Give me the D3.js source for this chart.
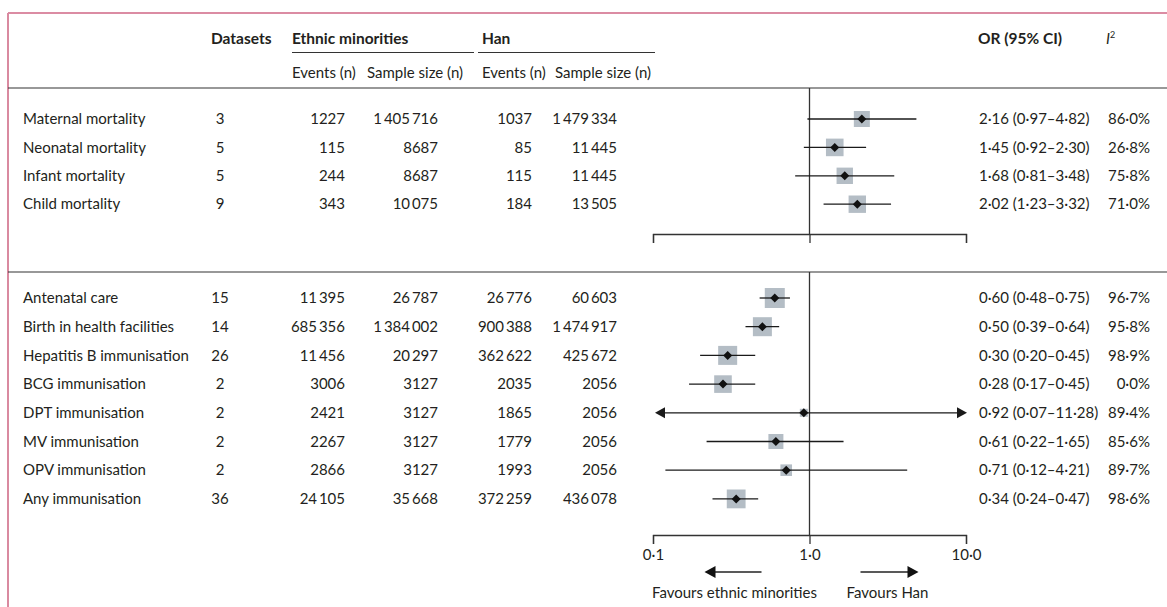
<!DOCTYPE html>
<html>
<head>
<meta charset="utf-8">
<script src="https://cdn.jsdelivr.net/npm/d3@7"></script>
<style>
  body { margin: 0; background: #fff; }
  text { font-family: Lato, "Open Sans", sans-serif; font-size: 15px; fill: #231f20; }
  .bold { font-weight: bold; font-size: 15.5px; }
</style>
</head>
<body>
<svg width="1167" height="607"></svg>
<script>
// table data
const outcomes = ["Maternal mortality", "Neonatal mortality", "Infant mortality", "Child mortality",
  "Antenatal care", "Birth in health facilities", "Hepatitis B immunisation", "BCG immunisation",
  "DPT immunisation", "MV immunisation", "OPV immunisation", "Any immunisation"]
const group = [0, 0, 0, 0, 1, 1, 1, 1, 1, 1, 1, 1]
const datasets = [3, 5, 5, 9, 15, 14, 26, 2, 2, 2, 2, 36]
const em_events = [1227, 115, 244, 343, 11395, 685356, 11456, 3006, 2421, 2267, 2866, 24105]
const em_sample = [1405716, 8687, 8687, 10075, 26787, 1384002, 20297, 3127, 3127, 3127, 3127, 35668]
const han_events = [1037, 85, 115, 184, 26776, 900388, 362622, 2035, 1865, 1779, 1993, 372259]
const han_sample = [1479334, 11445, 11445, 13505, 60603, 1474917, 425672, 2056, 2056, 2056, 2056, 436078]
const or_value = [2.16, 1.45, 1.68, 2.02, 0.60, 0.50, 0.30, 0.28, 0.92, 0.61, 0.71, 0.34]
const or_low = [0.97, 0.92, 0.81, 1.23, 0.48, 0.39, 0.20, 0.17, 0.07, 0.22, 0.12, 0.24]
const or_high = [4.82, 2.30, 3.48, 3.32, 0.75, 0.64, 0.45, 0.45, 11.28, 1.65, 4.21, 0.47]
const i2 = [86.0, 26.8, 75.8, 71.0, 96.7, 95.8, 98.9, 0.0, 89.4, 85.6, 89.7, 98.6]
// relative study weight (drives the grey box size)
const weight = [8.0, 8.8, 8.2, 8.7, 10.0, 9.5, 9.5, 8.8, 4.0, 7.5, 5.8, 9.4]
const axis_ticks = [0.1, 1, 10]

const rows = outcomes.map((name, i) => ({
  name, group: group[i], datasets: datasets[i],
  em_events: em_events[i], em_sample: em_sample[i],
  han_events: han_events[i], han_sample: han_sample[i],
  or: or_value[i], lo: or_low[i], hi: or_high[i], i2: i2[i], weight: weight[i],
  index: i - (group[i] === 0 ? 0 : 4)
}))

const svg = d3.select("svg")

const group_top = [119, 298]
const row_step = [28.4, 28.7]
const row_y = row => group_top[row.group] + row.index * row_step[row.group]
const axis_y = [234, 535]
const rule_y = [88, 272]

const x = d3.scaleLog().domain([0.1, 10]).range([653, 966])
const box = d3.scaleLinear().domain([0, 10]).range([0, 20])

const dot = s => s.replace(".", "·")
const fmt_num = n => n >= 10000 ? d3.format(",")(n).replace(/,/g, "\u2009") : String(n)
const fmt_or = r => dot(r.or.toFixed(2)) + " (" + dot(r.lo.toFixed(2)) + "–" + dot(r.hi.toFixed(2)) + ")"

// frame
svg.append("line").attr("x1", 8).attr("x2", 1167).attr("y1", 13).attr("y2", 13)
  .attr("stroke", "#cf6684").attr("stroke-width", 1.5)
svg.append("line").attr("x1", 8).attr("x2", 8).attr("y1", 13).attr("y2", 607)
  .attr("stroke", "#d98aa0").attr("stroke-width", 2)

// headers
const header = svg.append("g")
header.append("text").attr("class", "bold").attr("x", 211).attr("y", 44).text("Datasets")
header.append("text").attr("class", "bold").attr("x", 292).attr("y", 44).text("Ethnic minorities")
header.append("text").attr("class", "bold").attr("x", 482).attr("y", 44).text("Han")
header.append("text").attr("class", "bold").attr("x", 978).attr("y", 44).text("OR (95% CI)")
const i2_head = header.append("text").attr("x", 1106).attr("y", 44)
i2_head.append("tspan").attr("font-style", "italic").text("I")
i2_head.append("tspan").attr("font-size", "9px").attr("dy", -6).text("2")

header.append("line").attr("x1", 292).attr("x2", 474).attr("y1", 52.5).attr("y2", 52.5).attr("stroke", "#333").attr("stroke-width", 1.2)
header.append("line").attr("x1", 478).attr("x2", 655).attr("y1", 52.5).attr("y2", 52.5).attr("stroke", "#333").attr("stroke-width", 1.2)

const subheads = [[292, "Events (n)"], [367, "Sample size (n)"], [482, "Events (n)"], [555, "Sample size (n)"]]
header.selectAll("text.sub").data(subheads).enter().append("text")
  .attr("class", "sub").attr("x", d => d[0]).attr("y", 78).text(d => d[1])

svg.selectAll("line.rule").data(rule_y).enter().append("line")
  .attr("class", "rule").attr("x1", 8).attr("x2", 1167).attr("y1", d => d).attr("y2", d => d)
  .attr("stroke", "#333").attr("stroke-width", 1.2)

// table columns
const columns = [
  { x: 23, anchor: "start", value: r => r.name },
  { x: 220, anchor: "middle", value: r => r.datasets },
  { x: 345, anchor: "end", value: r => fmt_num(r.em_events) },
  { x: 438, anchor: "end", value: r => fmt_num(r.em_sample) },
  { x: 532, anchor: "end", value: r => fmt_num(r.han_events) },
  { x: 617, anchor: "end", value: r => fmt_num(r.han_sample) },
  { x: 979, anchor: "start", value: r => fmt_or(r) },
  { x: 1150, anchor: "end", value: r => dot(r.i2.toFixed(1)) + "%" }
]

const table = svg.append("g")
columns.forEach(col => {
  table.selectAll(null).data(rows).enter().append("text")
    .attr("x", col.x).attr("y", r => row_y(r)).attr("dy", "0.35em")
    .attr("text-anchor", col.anchor).text(col.value)
})

// null line at OR = 1
axis_y.forEach((ay, g) => {
  svg.append("line").attr("x1", x(1)).attr("x2", x(1))
    .attr("y1", rule_y[g]).attr("y2", ay).attr("stroke", "#333").attr("stroke-width", 1.3)
})

// axes
axis_y.forEach((ay, g) => {
  const axis = d3.axisBottom(x).tickValues(axis_ticks).tickSize(9).tickSizeOuter(9)
    .tickFormat(g === 1 ? (d => dot(d.toFixed(1))) : "")
  const ga = svg.append("g").attr("transform", `translate(0,${ay})`).call(axis)
  ga.selectAll("path, line").attr("stroke", "#333").attr("stroke-width", 1.3)
  ga.selectAll("text").attr("font-family", "Lato, sans-serif").attr("font-size", 15).attr("fill", "#231f20").attr("dy", "0.85em")
})

// forest marks
const [x_min, x_max] = x.domain()
const marks = svg.append("g")
marks.selectAll("rect").data(rows).enter().append("rect")
  .attr("x", r => x(r.or) - box(r.weight) / 2)
  .attr("y", r => row_y(r) - box(r.weight) / 2)
  .attr("width", r => box(r.weight)).attr("height", r => box(r.weight))
  .attr("fill", "#b4bdc5")

marks.selectAll("line.ci").data(rows).enter().append("line")
  .attr("class", "ci")
  .attr("x1", r => x(Math.max(r.lo, x_min)) + (r.lo < x_min ? 6 : 0))
  .attr("x2", r => x(Math.min(r.hi, x_max)) - (r.hi > x_max ? 6 : 0))
  .attr("y1", r => row_y(r)).attr("y2", r => row_y(r))
  .attr("stroke", "#1a1a1a").attr("stroke-width", 1.3)

// arrowheads where the interval leaves the axis range
marks.selectAll("path.left").data(rows.filter(r => r.lo < x_min)).enter().append("path")
  .attr("d", r => { const px = x(x_min) + 2, py = row_y(r); return `M${px},${py}L${px + 10},${py - 5.5}L${px + 10},${py + 5.5}Z` })
  .attr("fill", "#1a1a1a")
marks.selectAll("path.right").data(rows.filter(r => r.hi > x_max)).enter().append("path")
  .attr("d", r => { const px = x(x_max) + 1, py = row_y(r); return `M${px},${py}L${px - 10},${py - 5.5}L${px - 10},${py + 5.5}Z` })
  .attr("fill", "#1a1a1a")

marks.selectAll("path.est").data(rows).enter().append("path")
  .attr("d", r => { const px = x(r.or), py = row_y(r); return `M${px - 4.5},${py}L${px},${py - 4.5}L${px + 4.5},${py}L${px},${py + 4.5}Z` })
  .attr("fill", "#111")

// favours labels
const fav_y = 572
const c = x(1)
svg.append("line").attr("x1", c - 97).attr("x2", c - 48).attr("y1", fav_y).attr("y2", fav_y).attr("stroke", "#222").attr("stroke-width", 1.3)
svg.append("path").attr("d", `M${c - 105},${fav_y}L${c - 94},${fav_y - 6}L${c - 94},${fav_y + 6}Z`).attr("fill", "#111")
svg.append("line").attr("x1", c + 51).attr("x2", c + 100).attr("y1", fav_y).attr("y2", fav_y).attr("stroke", "#222").attr("stroke-width", 1.3)
svg.append("path").attr("d", `M${c + 109},${fav_y}L${c + 98},${fav_y - 6}L${c + 98},${fav_y + 6}Z`).attr("fill", "#111")
svg.append("text").attr("x", c - 75).attr("y", 598).attr("text-anchor", "middle").text("Favours ethnic minorities")
svg.append("text").attr("x", c + 78).attr("y", 598).attr("text-anchor", "middle").text("Favours Han")
</script>
</body>
</html>
